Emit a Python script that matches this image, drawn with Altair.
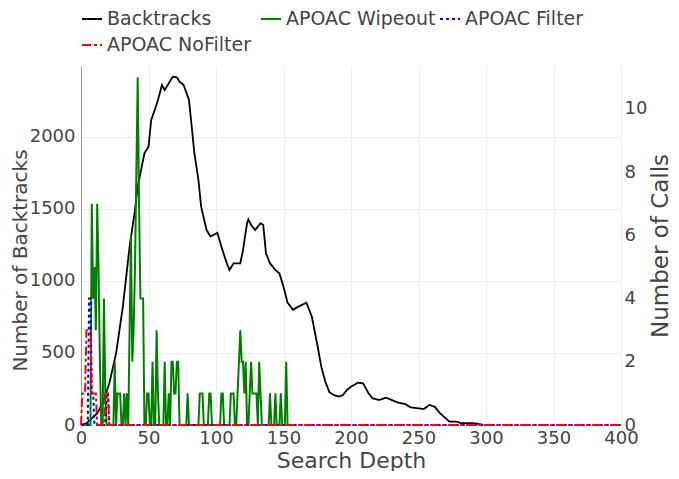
import altair as alt
import pandas as pd

series_names = ["Backtracks", "APOAC Wipeout", "APOAC Filter", "APOAC NoFilter"]
series_colors = ["black", "green", "blue", "red"]
series_dashes = [[1, 0], [1, 0], [3, 3], [9, 3, 3, 3]]

# Backtracks (left axis)
bt_depth = [0, 4, 12, 16, 21, 26, 31, 36, 40, 42, 45, 47, 50, 52, 55, 57, 60, 62, 65, 68,
            71, 73, 76, 80, 82, 84, 87, 89, 93, 96, 98, 101, 104, 108, 110, 113, 118, 120,
            123, 124, 126, 129, 133, 135, 137, 140, 144, 147, 150, 153, 157, 161, 167, 171,
            175, 178, 181, 184, 188, 191, 194, 197, 200, 205, 209, 213, 216, 221, 226, 230,
            235, 240, 244, 254, 258, 262, 266, 273, 278, 282, 291, 296, 298]
bt_value = [0, 12, 81, 150, 290, 498, 822, 1238, 1493, 1655, 1794, 1887, 1933, 2118, 2199,
            2257, 2361, 2326, 2373, 2419, 2414, 2384, 2361, 2257, 2072, 1887, 1701, 1516, 1354,
            1308, 1319, 1335, 1238, 1123, 1076, 1123, 1123, 1215, 1401, 1428, 1389, 1354, 1401,
            1389, 1192, 1123, 1076, 1053, 960, 850, 800, 822, 849, 752, 560, 405, 300, 228,
            205, 197, 208, 243, 266, 294, 289, 220, 185, 174, 190, 174, 155, 146, 123, 111,
            139, 127, 81, 23, 23, 12, 12, 5, 0]

# APOAC Wipeout (right axis), one value per depth 0..153
wipe_value = [0, 0, 0, 0, 0, 0, 0, 0, 7, 4,
              5, 3, 7, 5, 2, 0, 0, 4, 1, 0,
              0, 0, 0, 0, 0, 2, 0, 1, 1, 1,
              0, 0, 1, 0, 1, 0, 3, 6, 2, 3,
              5, 8, 11, 7, 4, 4, 4, 0, 0, 1,
              1, 0, 0, 2, 0, 0, 3, 1, 0, 0,
              0, 0, 2, 0, 0, 1, 0, 2, 2, 1,
              1, 2, 2, 0, 0, 0, 0, 0, 0, 1,
              0, 0, 0, 0, 0, 0, 0, 0, 1, 1,
              1, 0, 0, 0, 0, 1, 1, 0, 0, 0,
              0, 0, 0, 0, 1, 1, 0, 0, 0, 0,
              0, 1, 1, 1, 0, 0, 1, 2, 3, 2,
              2, 1, 2, 0, 0, 1, 2, 1, 1, 1,
              1, 0, 2, 1, 0, 0, 0, 0, 0, 0,
              1, 0, 0, 0, 1, 0, 0, 0, 1, 0,
              0, 0, 2, 0]
wipe_depth = list(range(len(wipe_value)))

# APOAC Filter (right axis)
filt_depth = [0, 5, 6, 7, 8, 9, 10, 18, 19, 20, 21, 400]
filt_value = [0, 0, 4, 4, 1, 1, 0, 0, 1, 1, 0, 0]

# APOAC NoFilter (right axis)
nof_depth = [0, 1, 2, 3, 4, 5, 6, 7, 8, 9, 10, 11, 12, 17, 18, 19, 20, 21, 400]
nof_value = [0, 1, 1, 1, 3, 3, 3, 3, 1, 1, 1, 1, 0, 0, 1, 1, 1, 0, 0]

x_ticks = [0, 50, 100, 150, 200, 250, 300, 350, 400]
left_ticks = [0, 500, 1000, 1500, 2000]
right_ticks = [0, 2, 4, 6, 8, 10]

df_bt = pd.DataFrame({"depth": bt_depth, "value": bt_value, "series": "Backtracks"})
df_calls = pd.concat([
    pd.DataFrame({"depth": wipe_depth, "value": wipe_value, "series": "APOAC Wipeout"}),
    pd.DataFrame({"depth": filt_depth, "value": filt_value, "series": "APOAC Filter"}),
    pd.DataFrame({"depth": nof_depth, "value": nof_value, "series": "APOAC NoFilter"}),
], ignore_index=True)

FONT = "DejaVu Sans"
TXT = "#444444"
W, H = 540, 359

color_enc = alt.Color("series:N", scale=alt.Scale(domain=series_names, range=series_colors),
                      title=None)
dash_enc = alt.StrokeDash("series:N", scale=alt.Scale(domain=series_names, range=series_dashes),
                          title=None)

x_enc = alt.X("depth:Q", scale=alt.Scale(domain=[0, 400], nice=False, zero=False),
              axis=alt.Axis(title="Search Depth", values=x_ticks, domain=False, ticks=False,
                            labelFlush=False, labelPadding=4, titleFontSize=22,
                            titleX=W / 2, titleY=35, titleBaseline="middle",
                            titleAlign="center"))

left = alt.Chart(df_bt).mark_line(strokeWidth=1.8, interpolate="linear").encode(
    x=x_enc,
    y=alt.Y("value:Q", scale=alt.Scale(domain=[0, 2493], nice=False),
            axis=alt.Axis(orient="left", title="Number of Backtracks", values=left_ticks,
                          format="d", domain=True, domainColor="#999999", ticks=False,
                          labelPadding=6, titleAngle=270, titleX=-61, titleY=194,
                          titleFontSize=20,
                          titleBaseline="middle", titleAlign="center")),
    color=color_enc,
    strokeDash=dash_enc,
    order="depth:Q",
)

right = alt.Chart(df_calls).mark_line(strokeWidth=2, interpolate="linear").encode(
    x=x_enc,
    y=alt.Y("value:Q", scale=alt.Scale(domain=[0, 11.36], nice=False),
            axis=alt.Axis(orient="right", title="Number of Calls", values=right_ticks,
                          format="d", domain=False, ticks=False, labelPadding=3,
                          titleAngle=270, titleX=39, titleY=H / 2,
                          titleBaseline="middle", titleAlign="center")),
    color=color_enc,
    strokeDash=dash_enc,
    detail="series:N",
    order="depth:Q",
)

chart = alt.layer(left, right).resolve_scale(y="independent").properties(
    width=W, height=H,
    autosize=alt.AutoSizeParams(type="none"),
    padding={"left": 73, "top": 58, "right": 50, "bottom": 46},
).configure_view(stroke=None).configure_axis(
    grid=True, gridColor="#eeeeee", gridWidth=1,
    labelFont=FONT, titleFont=FONT, labelFontSize=18, titleFontSize=23,
    labelColor=TXT, titleColor=TXT, titleFontWeight="normal",
).configure_legend(
    orient="none", legendX=0, legendY=-58, direction="horizontal", columns=3,
    gridAlign="all",
    symbolType="stroke", symbolSize=400, symbolStrokeWidth=2,
    labelFont=FONT, labelFontSize=19, labelColor=TXT, labelOffset=4,
    columnPadding=0, rowPadding=5, labelLimit=300,
)

chart.save("out.html", embed_options={"renderer": "svg", "actions": False})
